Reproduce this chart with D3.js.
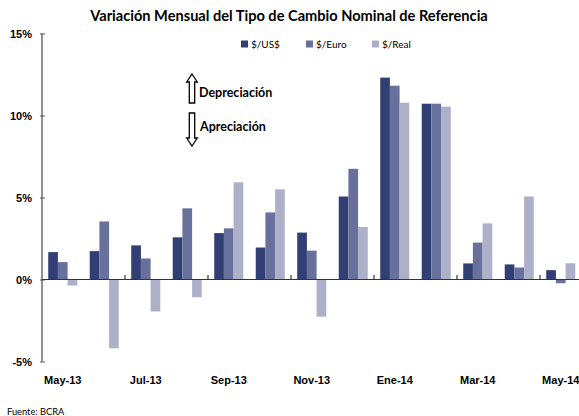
<!DOCTYPE html>
<html>
<head>
<meta charset="utf-8">
<script src="https://cdn.jsdelivr.net/npm/d3@7"></script>
<style>
	body { margin: 0; background: #fff; }
	svg { display: block; font-family: Lato, "Open Sans", sans-serif; }
	.axis text { font-weight: bold; font-size: 11px; fill: #000; }
</style>
</head>
<body>
<svg id="chart" width="579" height="416"></svg>
<script>
'use strict';

var months = ['May-13','Jun-13','Jul-13','Ago-13','Sep-13','Oct-13','Nov-13','Dic-13',
	'Ene-14','Feb-14','Mar-14','Abr-14','May-14'];
var series = ['$/US$','$/Euro','$/Real'];
var colors = ['#323f75','#68709c','#aeb0ca'];
var usd  = [1.67, 1.73, 2.08, 2.57, 2.83, 1.95, 2.86, 5.06, 12.31, 10.72, 0.98, 0.92, 0.57];
var euro = [1.06, 3.54, 1.28, 4.34, 3.12, 4.09, 1.76, 6.75, 11.82, 10.72, 2.25, 0.73, -0.23];
var real = [-0.37, -4.2, -1.95, -1.08, 5.93, 5.50, -2.27, 3.2, 10.78, 10.54, 3.42, 5.06, 0.99];
var yTicks = [-5, 0, 5, 10, 15];
var xLabels = ['May-13','Jul-13','Sep-13','Nov-13','Ene-14','Mar-14','May-14'];

var svg = d3.select('#chart');
var margin = { left: 42, right: -2.5, top: 33.5, bottom: 54.5 };
var width = 579, height = 416;

var x0 = d3.scaleBand()
	.domain(months)
	.range([margin.left, width - margin.right])
	.paddingInner(0.3)
	.paddingOuter(0.15)
	;
var x1 = d3.scaleBand()
	.domain(series)
	.range([0, x0.bandwidth()])
	;
var y = d3.scaleLinear()
	.domain([-5, 15])
	.range([height - margin.bottom, margin.top])
	;

var table = months.map(function(mo, i) {
	return { month: mo, values: [usd[i], euro[i], real[i]] };
});

// title
svg.append('text')
	.attr('x', 289)
	.attr('y', 21)
	.attr('text-anchor', 'middle')
	.style('font-weight', 'bold')
	.style('font-size', '14.6px')
	.text('Variación Mensual del Tipo de Cambio Nominal de Referencia');

// bars
var groups = svg.append('g')
	.attr('class', 'bars')
	.selectAll('g')
	.data(table)
	.enter().append('g')
		.attr('transform', function(d) { return 'translate(' + x0(d.month) + ',0)'; })
	;
groups.selectAll('rect')
	.data(function(d) { return d.values.map(function(v, k) { return { key: series[k], k: k, v: v }; }); })
	.enter().append('rect')
		.attr('x', function(d) { return x1(d.key); })
		.attr('width', x1.bandwidth())
		.attr('y', function(d) { return y(Math.max(0, d.v)); })
		.attr('height', function(d) { return Math.abs(y(d.v) - y(0)); })
		.attr('fill', function(d) { return colors[d.k]; })
	;

// y axis
var yAxis = d3.axisLeft(y)
	.tickValues(yTicks)
	.tickFormat(function(v) { return v + '%'; })
	.tickSize(-3)
	.tickPadding(10)
	;
var yg = svg.append('g')
	.attr('class', 'y axis')
	.attr('transform', 'translate(' + margin.left + ',0)')
	.call(yAxis)
	;
yg.select('.domain').remove();
yg.selectAll('line').attr('x1', -2).attr('stroke', '#555');
svg.append('line')
	.attr('x1', margin.left).attr('x2', margin.left)
	.attr('y1', y(15)).attr('y2', y(-5))
	.attr('stroke', '#555')
	.attr('stroke-width', 1.3);

// zero line
svg.append('line')
	.attr('x1', margin.left).attr('x2', width)
	.attr('y1', y(0)).attr('y2', y(0))
	.attr('stroke', '#333')
	.attr('stroke-width', 1.2);

// x tick marks on the zero line, every two months
var gap = x0.step() - x0.bandwidth();
svg.append('g')
	.attr('class', 'xticks')
	.selectAll('line')
	.data(months.filter(function(d, i) { return i > 0 && i % 2 === 0; }))
	.enter().append('line')
		.attr('x1', function(d) { return x0(d) - gap / 2; })
		.attr('x2', function(d) { return x0(d) - gap / 2; })
		.attr('y1', y(0) - 4.5)
		.attr('y2', y(0) + 0.5)
		.attr('stroke', '#333')
		.attr('stroke-width', 1.2)
	;

// x labels at the bottom
var xAxis = d3.axisBottom(x0)
	.tickValues(xLabels)
	.tickSize(0)
	.tickPadding(0)
	;
var xg = svg.append('g')
	.attr('class', 'x axis')
	.attr('transform', 'translate(0,' + (y(-5) + 15) + ')')
	.call(xAxis)
	;
xg.select('.domain').remove();

// legend
var legend = svg.append('g').attr('class', 'legend');
var legendX = [241, 306, 372];
series.forEach(function(s, k) {
	legend.append('rect')
		.attr('x', legendX[k]).attr('y', 40.5)
		.attr('width', 7).attr('height', 7)
		.attr('fill', colors[k]);
	legend.append('text')
		.attr('x', legendX[k] + 10).attr('y', 48)
		.style('font-size', '10px')
		.text(s);
});

// annotation arrows
function blockArrow(cx, top, bottom, up) {
	var sw = 2.7, hw = 5.3, hh = 8;
	var pts;
	if (up) {
		pts = [[cx, top], [cx + hw, top + hh], [cx + sw, top + hh], [cx + sw, bottom],
			[cx - sw, bottom], [cx - sw, top + hh], [cx - hw, top + hh]];
	} else {
		pts = [[cx, bottom], [cx + hw, bottom - hh], [cx + sw, bottom - hh], [cx + sw, top],
			[cx - sw, top], [cx - sw, bottom - hh], [cx - hw, bottom - hh]];
	}
	svg.append('path')
		.attr('d', d3.line()(pts) + 'Z')
		.attr('fill', '#fff')
		.attr('stroke', '#000')
		.attr('stroke-width', 1.3);
}
blockArrow(192, 74, 103, true);
blockArrow(192, 113, 146, false);
svg.append('text')
	.attr('x', 199).attr('y', 97)
	.style('font-weight', 'bold').style('font-size', '12.5px')
	.text('Depreciación');
svg.append('text')
	.attr('x', 200).attr('y', 131)
	.style('font-weight', 'bold').style('font-size', '12.5px')
	.text('Apreciación');

// source
svg.append('text')
	.attr('x', 7).attr('y', 415)
	.style('font-size', '9.3px')
	.text('Fuente: BCRA');
</script>
</body>
</html>
